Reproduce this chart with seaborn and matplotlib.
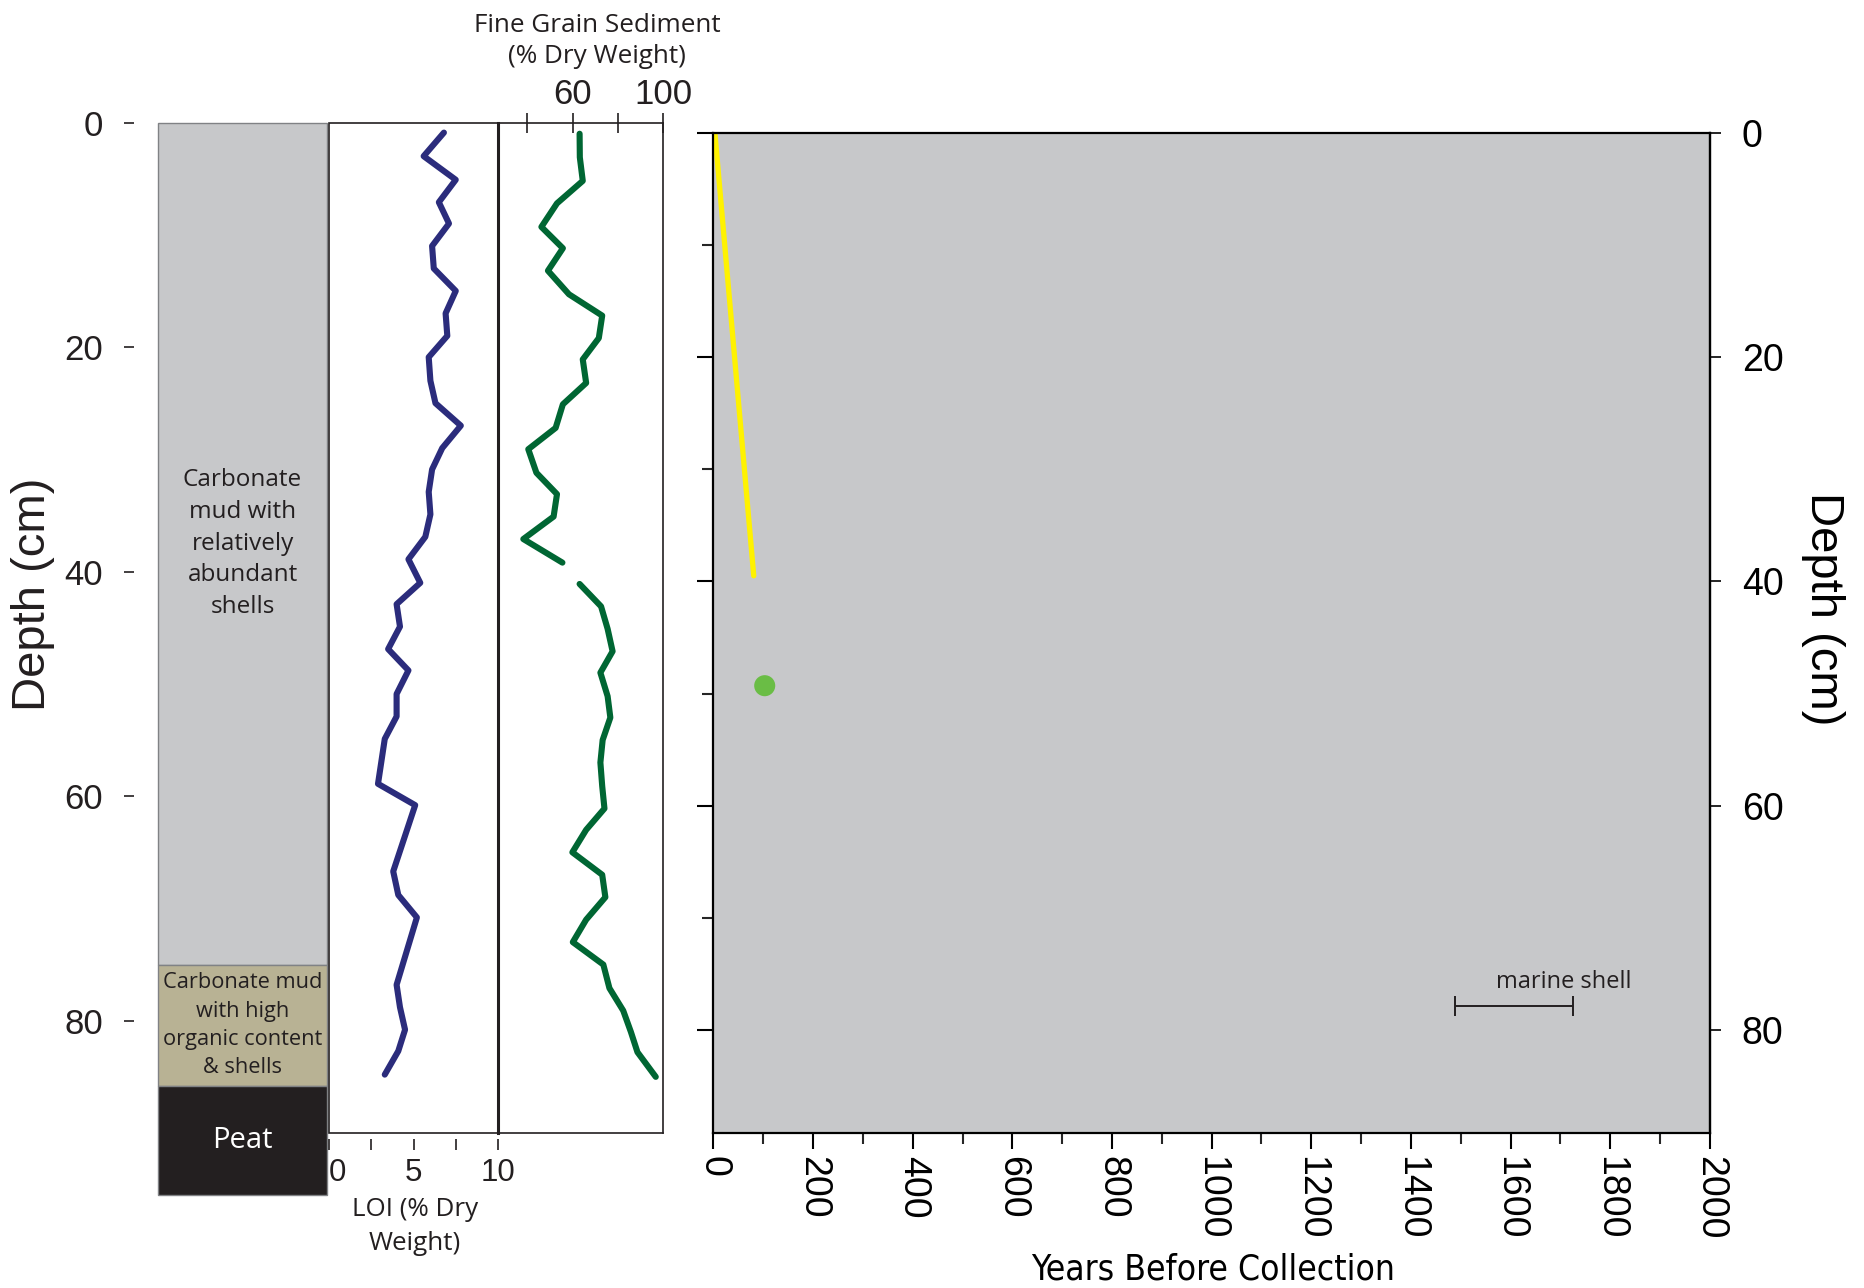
import matplotlib
matplotlib.use("Agg")
import matplotlib.pyplot as plt
from matplotlib import font_manager
from matplotlib.patches import Rectangle
import seaborn as sns
import numpy as np

# lithology units (depth, cm)
lith_names = ["Carbonate\nmud with\nrelatively\nabundant\nshells",
              "Carbonate mud\nwith high\norganic content\n& shells",
              "Peat"]
lith_top = [0, 75.0, 85.8]
lith_bottom = [75.0, 85.8, 95.5]

# loss on ignition (% dry weight)
loi_depth = [0.9, 3.0, 5.1, 7.1, 9.0, 11.0, 13.0, 15.0, 17.0, 19.0, 20.9, 23.0, 25.0,
             27.0, 29.0, 30.9, 32.9, 34.9, 36.9, 38.9, 41.0, 42.9, 44.9, 46.9, 48.8,
             50.9, 52.9, 54.9, 58.9, 60.8, 66.7, 68.8, 70.8, 76.8, 78.8, 80.8, 82.7, 84.8]
loi_pct = [6.8, 5.6, 7.5, 6.5, 7.1, 6.1, 6.2, 7.5, 6.9, 7.0, 5.9, 6.0, 6.3,
           7.8, 6.7, 6.1, 5.9, 6.0, 5.7, 4.7, 5.4, 4.0, 4.2, 3.5, 4.7,
           4.0, 4.0, 3.3, 2.9, 5.1, 3.8, 4.1, 5.2, 4.0, 4.2, 4.5, 4.1, 3.3]

# fine grain sediment (% dry weight), gap near 40 cm
fine_depth_upper = [1.0, 3.1, 5.2, 7.2, 9.3, 11.2, 13.2, 15.3, 17.2, 19.2, 21.1, 23.2,
                    25.1, 27.2, 29.1, 31.2, 33.1, 35.1, 37.1, 39.2]
fine_pct_upper = [63.1, 63.2, 64.5, 53.1, 46.2, 55.7, 49.1, 58.4, 73.1, 71.6, 64.5, 66.0,
                  55.7, 52.5, 40.4, 44.0, 53.1, 51.6, 38.2, 55.5]
fine_depth_lower = [41.1, 43.1, 45.1, 47.1, 49.0, 51.1, 53.0, 55.0, 57.0, 59.1, 61.1, 63.0,
                    65.0, 67.0, 69.0, 71.0, 73.0, 75.0, 77.1, 79.1, 81.0, 82.8, 85.0]
fine_pct_lower = [63.1, 72.6, 75.5, 77.7, 72.3, 75.5, 76.7, 73.3, 72.3, 73.1, 74.1, 66.0,
                  59.9, 73.1, 74.5, 66.0, 60.1, 73.6, 76.3, 82.4, 85.8, 88.7, 96.8]

# age model
age_model_years = [3, 81]
age_model_depth = [0, 39.5]
dated_years = [103]
dated_depth = [49.3]
shell_age = 1607
shell_err = 118
shell_depth = 77.9

depth_ticks = [0, 20, 40, 60, 80]
year_ticks = list(range(0, 2001, 200))

sns.set_theme(style="ticks")
plt.rcParams["font.family"] = ["Liberation Sans", "DejaVu Sans"]
humanist = ["Open Sans", "DejaVu Sans"]
ink = "#231f20"

# narrow face for the x axis title, if one is installed
fonts = font_manager.fontManager.ttflist
names = {f.name for f in fonts}
if "Liberation Sans Narrow" in names:
    narrow = dict(family=["Liberation Sans Narrow"], fontsize=30)
elif any(f.name == "DejaVu Sans" and f.stretch == "condensed" for f in fonts):
    narrow = dict(family=["DejaVu Sans"], fontstretch="condensed", fontsize=25.4)
else:
    narrow = dict(family=["Liberation Sans"], fontsize=25.5)

fig = plt.figure(figsize=(18.64, 12.88), dpi=100)
W, H = 1864, 1288


def box(x0, y0, x1, y1):
    return [x0 / W, 1 - y1 / H, (x1 - x0) / W, (y1 - y0) / H]


ax_lith = fig.add_axes(box(158, 122.5, 327, 1133))
ax_loi = fig.add_axes(box(329, 122.5, 498, 1133))
ax_fine = fig.add_axes(box(498, 122.5, 663, 1133))
ax_age = fig.add_axes(box(713.4, 133, 1709.8, 1133))

# lithology column
ax_lith.bar(0.5, np.subtract(lith_bottom, lith_top), bottom=lith_top, width=1,
            color=["#c7c8ca", "#b8b294", ink], edgecolor="#808285", linewidth=1, clip_on=False)
lith_style = [(17.5, 1.42, ink), (15.7, 1.45, ink), (21, 1.2, "white")]
for name, top, bot, (fs, ls, col) in zip(lith_names, lith_top, lith_bottom, lith_style):
    ax_lith.text(0.5, (top + bot) / 2, name, ha="center", va="center", fontsize=fs,
                 color=col, family=humanist, linespacing=ls)
ax_lith.set_xlim(0, 1)
ax_lith.set_ylim(90, 0)
for sp in ax_lith.spines.values():
    sp.set_visible(False)
ax_lith.spines["left"].set_position(("outward", 17))
ax_lith.set_xticks([])
ax_lith.set_yticks(depth_ticks)
ax_lith.tick_params(axis="y", direction="out", length=7.5, width=1.2, pad=15, labelsize=25, colors=ink)
ax_lith.set_ylabel("Depth (cm)", fontsize=34, color=ink)
ax_lith.yaxis.set_label_coords(-0.74, 0.533)
ax_lith.yaxis.label.set_va("center")

# LOI panel
sns.lineplot(x=loi_pct, y=loi_depth, orient="y", sort=False, estimator=None,
             color="#2b2c7c", linewidth=4.4, ax=ax_loi)
ax_loi.set_xlim(0, 10)
ax_loi.set_ylim(90, 0)
for sp in ax_loi.spines.values():
    sp.set_visible(False)
ax_loi.add_patch(Rectangle((0, 0), 1, 1, transform=ax_loi.transAxes, fill=False,
                           lw=1.2, ec=ink, clip_on=False))
ax_loi.spines["bottom"].set_position(("outward", 4))
ax_loi.set_yticks([])
ax_loi.set_xticks([0, 2.5, 5, 7.5, 10])
ax_loi.set_xticklabels(["0", "", "5", "", "10"])
ax_loi.get_xticklabels()[0].set_ha("left")
ax_loi.tick_params(axis="x", direction="out", length=8, width=1.2, pad=6, labelsize=22.5, colors=ink)
ax_loi.set_xlabel("LOI (% Dry\nWeight)", fontsize=18.7, color=ink, family=humanist, linespacing=1.45)
ax_loi.xaxis.set_label_coords(0.509, -0.0925)
ax_loi.xaxis.label.set_va("center")
ax_loi.set_ylabel("")

# fine grain panel
sns.lineplot(x=fine_pct_upper, y=fine_depth_upper, orient="y", sort=False, estimator=None,
             color="#006633", linewidth=4.4, ax=ax_fine)
sns.lineplot(x=fine_pct_lower, y=fine_depth_lower, orient="y", sort=False, estimator=None,
             color="#006633", linewidth=4.4, ax=ax_fine)
ax_fine.set_xlim(27, 100)
ax_fine.set_ylim(90, 0)
for sp in ax_fine.spines.values():
    sp.set_linewidth(1.2)
    sp.set_color(ink)
ax_fine.spines["left"].set_linewidth(2.2)
ax_fine.set_yticks([])
ax_fine.xaxis.tick_top()
ax_fine.xaxis.set_label_position("top")
ax_fine.set_xticks([40, 60, 80, 100])
ax_fine.set_xticklabels(["", "60", "", "100"])
ax_fine.tick_params(axis="x", direction="inout", length=14, width=1.2, pad=1, labelsize=25, colors=ink)
ax_fine.set_xlabel("Fine Grain Sediment\n(% Dry Weight)", fontsize=18.8, color=ink,
                   family=humanist, linespacing=1.35)
ax_fine.xaxis.set_label_coords(0.6, 1.0807)
ax_fine.xaxis.label.set_va("center")
ax_fine.set_ylabel("")

# age-depth panel
ax_age.set_facecolor("#c7c8ca")
sns.lineplot(x=age_model_years, y=age_model_depth, orient="y", sort=False, estimator=None,
             color="#fff200", linewidth=3.8, ax=ax_age)
sns.scatterplot(x=dated_years, y=dated_depth, color="#6abd45", s=230, edgecolor="none", ax=ax_age)
ax_age.errorbar(shell_age, shell_depth, xerr=shell_err, fmt="none", ecolor=ink,
                elinewidth=1.4, capsize=7, capthick=1.4)
ax_age.text(shell_age + 100, shell_depth - 2.2, "marine shell", ha="center", va="center",
            fontsize=17, color=ink, family=humanist)
ax_age.set_xlim(0, 2000)
ax_age.set_ylim(89.2, 0)
for sp in ax_age.spines.values():
    sp.set_linewidth(1.6)
    sp.set_color("black")
ax_age.set_xticks(year_ticks)
ax_age.set_xticks(range(100, 2000, 200), minor=True)
ax_age.set_xticklabels([str(v) for v in year_ticks], rotation=-90)
ax_age.set_yticks(depth_ticks)
ax_age.set_yticks([10, 30, 50, 70], minor=True)
ax_age.tick_params(axis="both", which="major", direction="out", length=11.5, width=1.5,
                   labelsize=27, colors="black")
ax_age.tick_params(axis="both", which="minor", direction="out", length=7.7, width=1.5)
ax_age.tick_params(axis="y", labelleft=False)
ax_age.tick_params(axis="x", pad=5)
ax_age.set_xlabel("Years Before Collection", color="black", **narrow)
ax_age.xaxis.set_label_coords(0.5014, -0.137)
ax_age.xaxis.label.set_va("center")

ax_age.yaxis.set_label_position("right")
ax_age.set_ylabel("Depth (cm)", rotation=-90, fontsize=34, color="black")
ax_age.yaxis.set_label_coords(1.1136, 0.524)
ax_age.yaxis.label.set_va("center")
ax_age.yaxis.label.set_ha("center")

sec = ax_age.secondary_yaxis("right")
sec.set_yticks(depth_ticks)
sec.tick_params(direction="out", length=8, width=1.2, pad=15, labelsize=27, colors="black")
sec.spines["right"].set_linewidth(1.6)

fig.savefig("out.png", dpi=100)
